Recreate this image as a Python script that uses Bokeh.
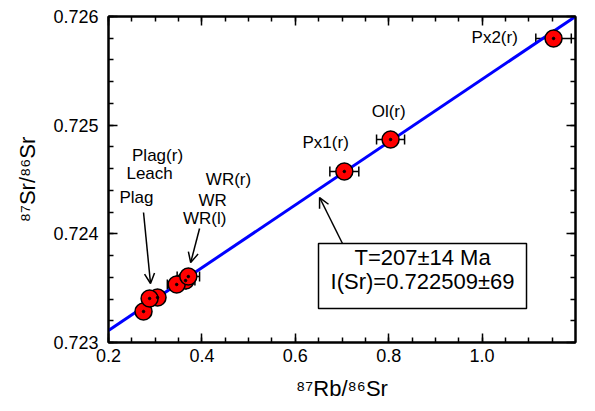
from bokeh.plotting import figure
from bokeh.models import (LinearAxis, SingleIntervalTicker, NumeralTickFormatter,
                          Whisker, ColumnDataSource, Arrow, OpenHead)
from bokeh.core.properties import value
from bokeh.embed import file_html
from bokeh.resources import INLINE

# ---- data ----
names = ["Plag(r)", "Plag", "Leach", "WR", "WR(l)", "WR(r)", "Px1(r)", "Ol(r)", "Px2(r)"]
rb_sr = [0.305, 0.275, 0.288, 0.365, 0.346, 0.371, 0.705, 0.804, 1.153]
sr_sr = [0.723414, 0.723285, 0.723405, 0.723570, 0.723534, 0.723607, 0.724574, 0.724868, 0.725798]
rb_err = [0.015, 0.015, 0.015, 0.020, 0.020, 0.024, 0.031, 0.030, 0.038]

iso_x = [0.2, 1.2]
iso_y = [0.72311, 0.72600]

x_ticks = [0.2, 0.4, 0.6, 0.8, 1.0, 1.2]
y_ticks = [0.723, 0.724, 0.725, 0.726]

label_text = ["Plag(r)", "Leach", "Plag", "WR(r)", "WR", "WR(l)", "Px1(r)", "Ol(r)", "Px2(r)"]
label_x = [0.305, 0.288, 0.260, 0.457, 0.423, 0.406, 0.665, 0.800, 1.027]
label_y = [0.724721, 0.724555, 0.724334, 0.724500, 0.724307, 0.724141, 0.724840, 0.725126, 0.725807]

box_lines = ["T=207±14 Ma", "I(Sr)=0.722509±69"]

FONT = "Liberation Sans"

p = figure(width=595, height=411, x_range=(x_ticks[0], x_ticks[-1]),
           y_range=(y_ticks[0], y_ticks[-1]), output_backend="svg",
           toolbar_location=None, min_border_left=108, min_border_right=20,
           min_border_top=16, min_border_bottom=69)
p.grid.visible = False
p.outline_line_color = "black"
p.outline_line_width = 2

xt = SingleIntervalTicker(interval=0.2, num_minor_ticks=4)
yt = SingleIntervalTicker(interval=0.001, num_minor_ticks=5)

def style(ax, ticker, show):
    ax.ticker = ticker
    ax.axis_line_width = 2
    ax.axis_line_color = "black"
    ax.major_tick_in = 9
    ax.major_tick_out = 0
    ax.minor_tick_in = 5
    ax.minor_tick_out = 0
    ax.major_tick_line_width = 1.5
    ax.minor_tick_line_width = 1.5
    ax.major_tick_line_color = "black"
    ax.minor_tick_line_color = "black"
    ax.major_label_text_font = FONT
    ax.major_label_text_color = "black"
    ax.axis_label_text_font = FONT
    ax.axis_label_text_color = "black"
    ax.axis_label_text_font_style = "normal"
    if not show:
        ax.major_label_text_color = None
        ax.major_label_text_font_size = "1px"
        ax.major_label_standoff = 0

style(p.xaxis[0], xt, True)
style(p.yaxis[0], yt, True)
p.xaxis[0].formatter = NumeralTickFormatter(format="0.0")
p.yaxis[0].formatter = NumeralTickFormatter(format="0.000")
p.xaxis[0].major_label_text_font_size = "18px"
p.yaxis[0].major_label_text_font_size = "18px"
p.xaxis[0].major_label_standoff = 6
p.yaxis[0].major_label_standoff = 10
p.xaxis[0].axis_label = "⁸⁷Rb/⁸⁶Sr"
p.yaxis[0].axis_label = "⁸⁷Sr/⁸⁶Sr"
p.xaxis[0].axis_label_text_font_size = "22px"
p.yaxis[0].axis_label_text_font_size = "22px"
p.xaxis[0].axis_label_standoff = 11
p.yaxis[0].axis_label_standoff = 10

top = LinearAxis()
right = LinearAxis()
style(top, SingleIntervalTicker(interval=0.2, num_minor_ticks=4), False)
style(right, SingleIntervalTicker(interval=0.001, num_minor_ticks=5), False)
p.add_layout(top, "above")
p.add_layout(right, "right")

# isochron
p.line(iso_x, iso_y, line_color="#0000ff", line_width=3)

src = ColumnDataSource(dict(x=rb_sr, y=sr_sr,
                            lo=[a - b for a, b in zip(rb_sr, rb_err)],
                            hi=[a + b for a, b in zip(rb_sr, rb_err)]))
w = Whisker(source=src, base="y", lower="lo", upper="hi", dimension="width",
            line_color="black", line_width=1.5)
w.upper_head.size = 10
w.lower_head.size = 10
w.upper_head.line_width = 1.5
w.lower_head.line_width = 1.5
p.add_layout(w)

p.scatter("x", "y", source=src, size=17, fill_color="red", line_color="black", line_width=1.5)
p.scatter("x", "y", source=src, size=2.5, fill_color="black", line_color="black")

# labels
p.text(label_x, label_y, text=label_text, text_font=value(FONT), text_font_size="17px",
       text_align="center", text_baseline="middle", text_color="black")

# arrows
for (x0, y0, x1, y1) in [(0.275, 0.724196, 0.290, 0.723543),
                         (0.395, 0.724049, 0.376, 0.723736),
                         (0.701, 0.723911, 0.652, 0.724334)]:
    p.add_layout(Arrow(x_start=x0, y_start=y0, x_end=x1, y_end=y1, line_width=1.5,
                       line_color="black",
                       end=OpenHead(size=10, line_width=1.5, line_color="black")))

# result box
p.quad(left=[0.6497], right=[1.0951], top=[0.723911], bottom=[0.723313],
       fill_color="white", line_color="black", line_width=1.5)
p.text([0.8725, 0.8725], [0.723782, 0.723561], text=box_lines, text_font=value(FONT),
       text_font_size="22px", text_align="center", text_baseline="middle", text_color="black")

open("out.html", "w").write(file_html(p, INLINE))
